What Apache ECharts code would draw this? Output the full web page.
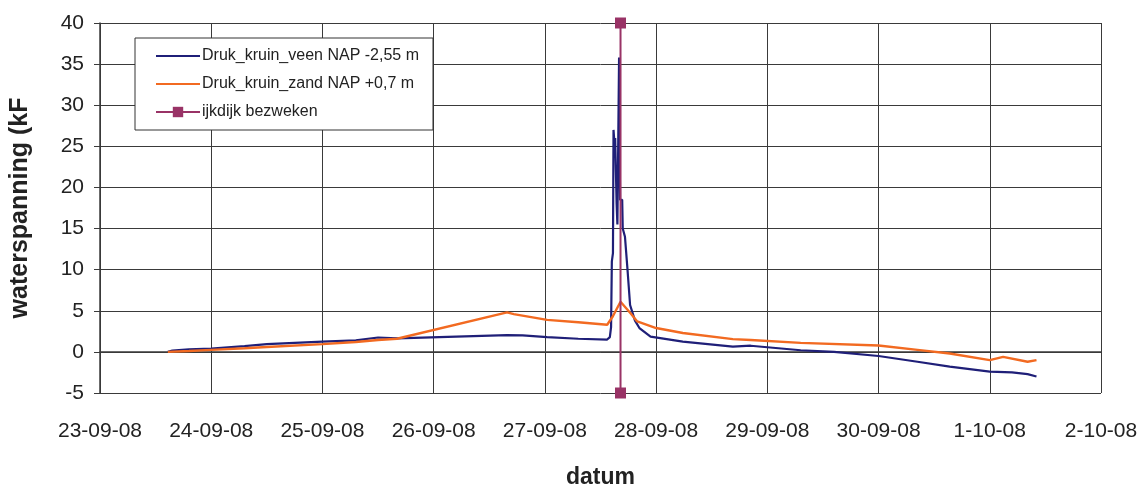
<!DOCTYPE html>
<html>
<head>
<meta charset="utf-8">
<script src="https://cdn.jsdelivr.net/npm/echarts@6/dist/echarts.min.js"></script>
<style>
  html, body { margin: 0; padding: 0; background: #fff; }
  #chart { width: 1144px; height: 491px; }
</style>
</head>
<body>
<div id="chart"></div>
<script>
// x in days since 23-09-08 00:00
var xLabels = ['23-09-08', '24-09-08', '25-09-08', '26-09-08', '27-09-08',
               '28-09-08', '29-09-08', '30-09-08', '1-10-08', '2-10-08'];
var yTicks = [-5, 0, 5, 10, 15, 20, 25, 30, 35, 40];

// Druk_kruin_veen NAP -2,55 m
var veenDays = [0.61, 0.65, 0.8, 1.0, 1.3, 1.5, 2.0, 2.3, 2.5, 2.67,
                3.66, 3.8, 4.02, 4.3, 4.56, 4.584, 4.595, 4.602, 4.612, 4.617,
                4.625, 4.632, 4.645, 4.652, 4.667, 4.676, 4.695, 4.70, 4.72, 4.745,
                4.766, 4.81, 4.85, 4.95, 5.24, 5.69, 5.85, 6.3, 6.6, 7.0,
                7.35, 7.64, 8.0, 8.2, 8.34, 8.42];
var veenVals = [0.0, 0.15, 0.3, 0.4, 0.7, 0.95, 1.25, 1.4, 1.75, 1.65,
                2.05, 2.0, 1.8, 1.6, 1.5, 1.8, 3.0, 11, 12, 27,
                25.5, 26, 18, 15.5, 35.8, 18.5, 18.5, 15, 14, 9.6,
                5.7, 3.8, 2.9, 1.85, 1.25, 0.65, 0.75, 0.2, 0.0, -0.5,
                -1.2, -1.8, -2.4, -2.5, -2.7, -3.0];

// Druk_kruin_zand NAP +0,7 m
var zandDays = [0.61, 0.8, 1.0, 1.3, 1.5, 2.0, 2.3, 2.5, 2.67, 3.66,
                3.72, 4.02, 4.3, 4.56, 4.61, 4.68, 4.77, 4.83, 5.0, 5.24,
                5.69, 5.85, 6.3, 7.0, 7.35, 7.64, 8.0, 8.12, 8.34, 8.42];
var zandVals = [0.0, 0.1, 0.25, 0.45, 0.6, 0.95, 1.2, 1.45, 1.6, 4.8,
                4.6, 3.9, 3.6, 3.3, 4.3, 6.1, 4.7, 3.7, 2.9, 2.3,
                1.55, 1.45, 1.1, 0.77, 0.24, -0.2, -1.0, -0.6, -1.2, -1.0];

// ijkdijk bezweken
var failDay = 4.68;
var failRange = [-5, 40];

function pairs(xs, ys) {
  return xs.map(function (x, i) { return [x, ys[i]]; });
}

var chart = echarts.init(document.getElementById('chart'));
var gridColor = '#3a3a3a';
var font = 'Liberation Sans, Arial, sans-serif';
var noMarker = { color: 'rgba(0,0,0,0)', borderWidth: 0 };

chart.setOption({
  animation: false,
  backgroundColor: '#fff',
  grid: { left: 100, right: 43, top: 23, bottom: 98, outerBoundsMode: 'none' },
  legend: {
    orient: 'vertical',
    left: 135,
    top: 38,
    padding: [10, 14, 10, 20],
    itemGap: 12,
    itemWidth: 44,
    itemHeight: 13,
    backgroundColor: '#fff',
    borderColor: '#333',
    borderWidth: 1,
    textStyle: { fontFamily: 'Liberation Sans Narrow, ' + font, fontSize: 16, color: '#222', padding: [0, 0, 0, -3] },
    data: [
      { name: 'Druk_kruin_veen NAP -2,55 m', itemStyle: noMarker },
      { name: 'Druk_kruin_zand NAP +0,7 m', itemStyle: noMarker },
      { name: 'ijkdijk bezweken' }
    ]
  },
  xAxis: {
    type: 'value',
    min: 0,
    max: 9,
    interval: 1,
    name: 'datum',
    nameLocation: 'middle',
    nameGap: 73,
    nameTextStyle: { fontFamily: font, fontSize: 23, fontWeight: 'bold', color: '#222' },
    axisLine: { show: true, lineStyle: { color: gridColor, width: 1.5 } },
    axisTick: { show: false },
    axisLabel: {
      margin: 28,
      fontFamily: font,
      fontSize: 21,
      color: '#222',
      formatter: function (v) { return xLabels[Math.round(v)]; }
    },
    splitLine: { show: true, lineStyle: { color: gridColor, width: 1 } }
  },
  yAxis: {
    type: 'value',
    min: yTicks[0],
    max: yTicks[yTicks.length - 1],
    interval: 5,
    name: 'waterspanning (kF',
    nameLocation: 'middle',
    nameGap: 67,
    nameTextStyle: { fontFamily: font, fontSize: 25, fontWeight: 'bold', color: '#222' },
    axisLine: { show: true, lineStyle: { color: gridColor, width: 1.5 } },
    axisTick: { show: true, length: 6, lineStyle: { color: gridColor } },
    axisLabel: { margin: 16, fontFamily: font, fontSize: 21, color: '#222' },
    splitLine: { show: true, lineStyle: { color: gridColor, width: 1 } }
  },
  series: [
    {
      name: 'Druk_kruin_veen NAP -2,55 m',
      type: 'line',
      symbol: 'none',
      color: '#1f1f78',
      lineStyle: { width: 2.2 },
      data: pairs(veenDays, veenVals),
      z: 3
    },
    {
      name: 'Druk_kruin_zand NAP +0,7 m',
      type: 'line',
      symbol: 'none',
      color: '#f26a21',
      lineStyle: { width: 2.4 },
      data: pairs(zandDays, zandVals),
      z: 4
    },
    {
      name: 'ijkdijk bezweken',
      type: 'line',
      symbol: 'rect',
      symbolSize: 11,
      color: '#993366',
      lineStyle: { width: 2 },
      data: failRange.map(function (v) { return [failDay, v]; }),
      z: 5
    }
  ]
});
</script>
</body>
</html>
